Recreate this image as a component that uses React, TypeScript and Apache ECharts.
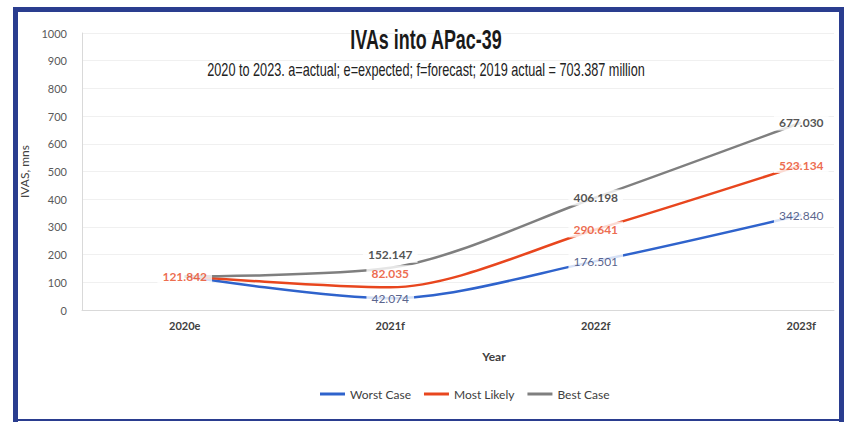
import React, { useEffect, useRef } from "react";
import * as echarts from "echarts";

const categories = ["2020e", "2021f", "2022f", "2023f"];
const worstCase = [121.842, 42.074, 176.501, 342.84];
const mostLikely = [121.842, 82.035, 290.641, 523.134];
const bestCase = [121.842, 152.147, 406.198, 677.03];
const seriesNames = ["Worst Case", "Most Likely", "Best Case"];
const yMin = 0;
const yMax = 1000;
const yInterval = 100;
const titleText = "IVAs into APac-39";
const subtitleText =
  "2020 to 2023. a=actual; e=expected; f=forecast; 2019 actual = 703.387 million";

const FONT = "Lato, 'Open Sans', sans-serif";
const FRAME = "#2a3d8f";

export default function App() {
  const ref = useRef<HTMLDivElement>(null);
  useEffect(() => {
    if (!ref.current) return;
    const chart = echarts.init(ref.current, undefined, { renderer: "svg" });
    const colors = ["#2f63cc", "#e8461e", "#7f7f7f"];
    const labelColors = ["#2e3a6e", "#e8461e", "#262626"];
    const datasets = [worstCase, mostLikely, bestCase];
    const catIdx = categories.map((_, i) => i);
    // plot spans x=82..834; category band 205.5px, first centre at 184.75
    const xMax = (834 - 82) / 205.5 - 0.5;
    const offsets: Record<string, [number, number]> = {
      "1-1": [0, -14],
      "2-1": [0, -13],
    };
    const lineSeries = datasets.map((d, i) => ({
      type: "line",
      name: seriesNames[i],
      data: d.map((v, j) => [catIdx[j], v]),
      smooth: 0.3,
      showSymbol: false,
      silent: true,
      z: 2,
      lineStyle: { color: colors[i], width: 2.5 },
      itemStyle: { color: colors[i] },
    }));
    const labelSeries = datasets.map((d, i) => ({
      type: "scatter",
      name: seriesNames[i] + " labels",
      silent: true,
      z: 5 + (i === 1 ? 2 : 0),
      symbolSize: 1,
      itemStyle: { color: "rgba(0,0,0,0)" },
      data: d.map((v, j) => ({
        value: [catIdx[j], v],
        label: {
          show: !(j === 0 && i !== 1),
          offset: offsets[`${i}-${j}`] || [0, 0],
        },
      })),
      label: {
        show: true,
        position: "inside",
        formatter: (p: any) => Number(p.value[1]).toFixed(3),
        color: labelColors[i],
        fontSize: 12,
        fontWeight: i === 0 ? "normal" : "bold",
        fontFamily: FONT,
        backgroundColor: "#ffffff",
        padding: [2, 5],
      },
    }));
    chart.setOption({
      animation: false,
      backgroundColor: "#ffffff",
      grid: { left: 82, right: 17, top: 33, height: 277 },
      legend: {
        data: seriesNames,
        icon: "rect",
        itemWidth: 25,
        itemHeight: 3,
        itemGap: 13,
        padding: 0,
        left: 320,
        top: 388,
        textStyle: { fontSize: 12, color: "#404040", fontFamily: FONT },
      },
      xAxis: {
        type: "value",
        min: -0.5,
        max: xMax,
        name: "Year",
        nameLocation: "middle",
        nameGap: 40,
        nameTextStyle: {
          fontSize: 12,
          color: "#404040",
          fontWeight: "bold",
          fontFamily: FONT,
          padding: [0, 0, 0, 72],
        },
        axisLine: { onZero: false, lineStyle: { color: "#d9d9d9", width: 1 } },
        axisTick: { show: false },
        axisLabel: {
          fontSize: 11,
          color: "#404040",
          fontWeight: "bold",
          margin: 10,
          fontFamily: FONT,
          customValues: catIdx,
          formatter: (v: number) => categories[Math.round(v)] ?? "",
        },
        splitLine: { show: false },
      },
      yAxis: {
        type: "value",
        min: yMin,
        max: yMax,
        interval: yInterval,
        name: "IVAS, mns",
        nameLocation: "middle",
        nameGap: 48,
        nameTextStyle: { fontSize: 12, color: "#404040", fontFamily: FONT },
        axisLine: { show: true, onZero: false, lineStyle: { color: "#d9d9d9", width: 1 } },
        axisTick: { show: false },
        axisLabel: {
          fontSize: 11,
          color: "#595959",
          margin: 15,
          fontFamily: FONT,
          formatter: (v: number) => String(v),
        },
        splitLine: { lineStyle: { color: "#f0f0f0", width: 1 } },
      },
      series: [...lineSeries, ...labelSeries],
      graphic: [
        { type: "rect", z: 100, shape: { x: 844, y: 0, width: 7, height: 422 }, style: { fill: "#ffffff" } },
        { type: "rect", z: 101, shape: { x: 13, y: 7, width: 831, height: 5 }, style: { fill: FRAME } },
        { type: "rect", z: 101, shape: { x: 13, y: 7, width: 5, height: 415 }, style: { fill: FRAME } },
        { type: "rect", z: 101, shape: { x: 839, y: 7, width: 5, height: 415 }, style: { fill: FRAME } },
        { type: "rect", z: 101, shape: { x: 13, y: 419, width: 831, height: 2 }, style: { fill: FRAME } },
        {
          type: "text",
          z: 102,
          x: 426,
          y: 39,
          scaleX: 0.64,
          style: {
            text: titleText,
            fontSize: 28,
            fontWeight: "bold",
            fontFamily: "'Liberation Sans', Arial, sans-serif",
            fill: "#1a1a1a",
            textAlign: "center",
            textVerticalAlign: "middle",
          },
        },
        {
          type: "text",
          z: 102,
          x: 426,
          y: 70,
          scaleX: 0.725,
          style: {
            text: subtitleText,
            fontSize: 17.5,
            fontFamily: "'Liberation Sans', Arial, sans-serif",
            fill: "#222222",
            textAlign: "center",
            textVerticalAlign: "middle",
          },
        },
      ],
    });
    return () => chart.dispose();
  }, []);
  return (
    <div
      ref={ref}
      style={{ position: "fixed", left: 0, top: 0, width: 851, height: 422 }}
    />
  );
}
